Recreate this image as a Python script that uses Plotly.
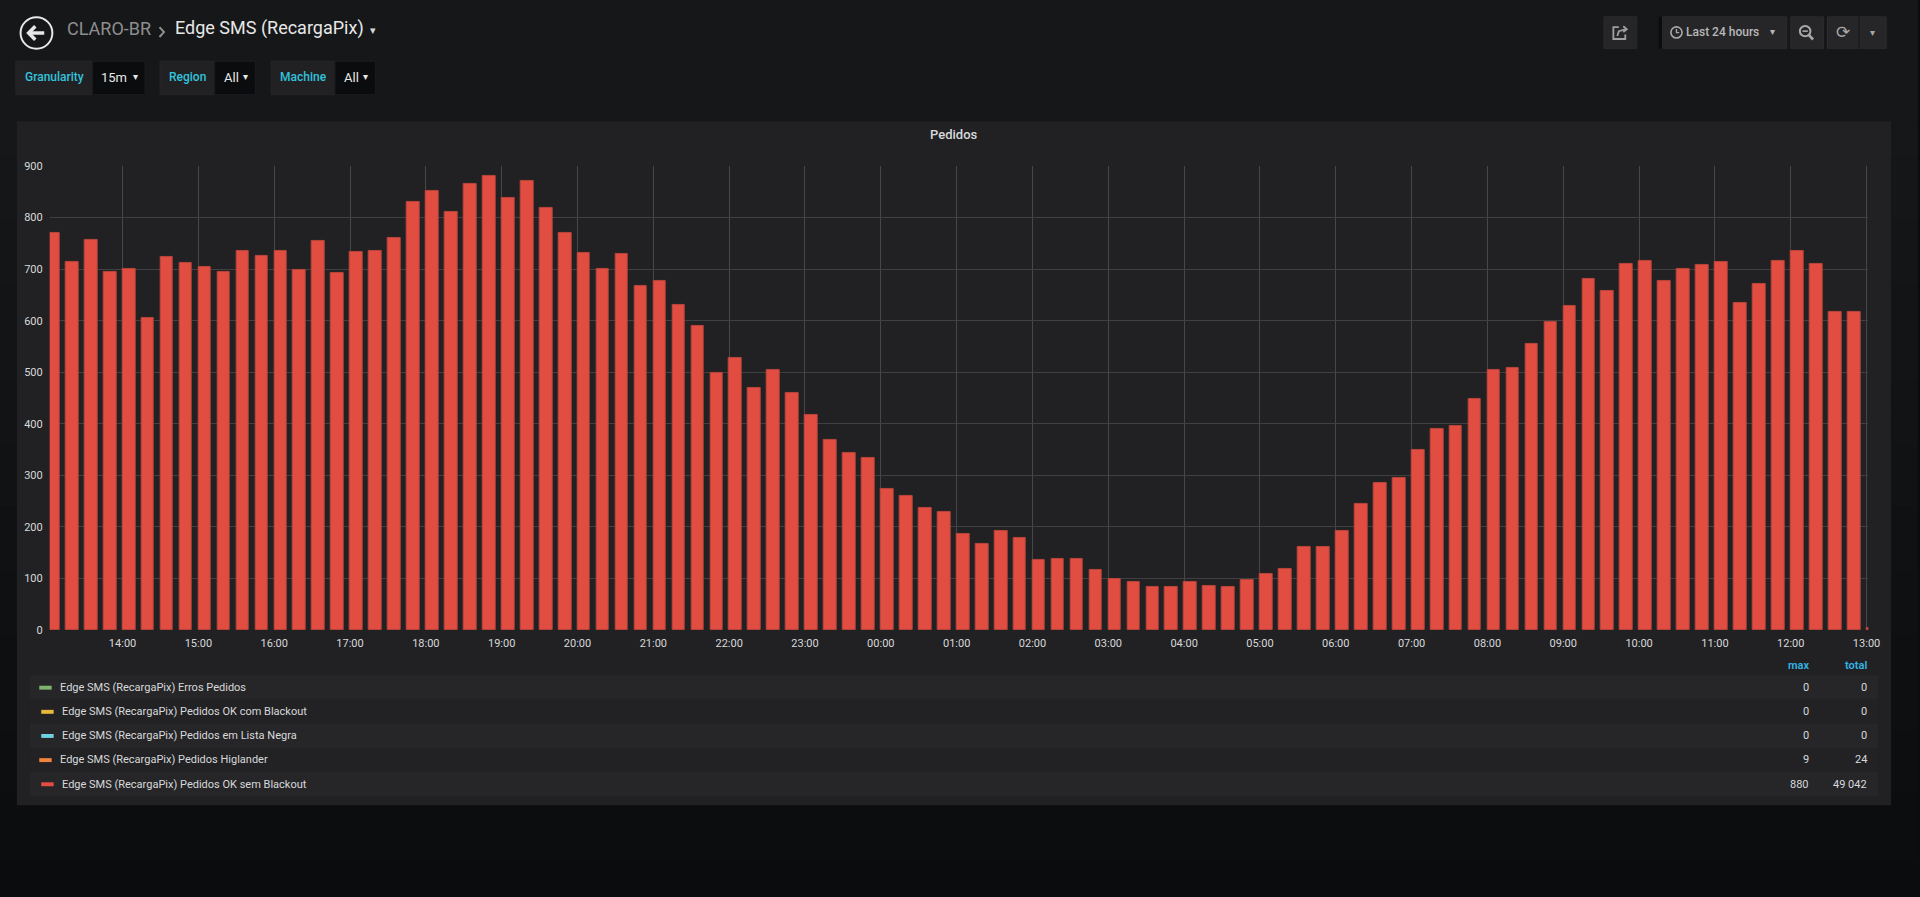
import pandas as pd
import plotly.graph_objects as go

# ---------------- data ----------------
start_time = "2021-06-01 13:00"
pedidos_ok_sem_blackout = [
    771, 714, 756, 695, 701, 605, 724, 712, 704, 694, 735, 726, 736, 699, 754, 692, 733, 736, 760, 831, 851, 810, 865, 880,
    837, 871, 818, 770, 732, 700, 729, 668, 677, 630, 589, 498, 528, 470, 505, 459, 417, 369, 343, 333, 273, 260, 237, 230,
    186, 168, 193, 179, 136, 138, 138, 116, 100, 94, 84, 83, 94, 85, 84, 97, 109, 118, 162, 161, 192, 245, 286, 296,
    350, 391, 396, 448, 505, 508, 555, 598, 629, 681, 658, 710, 716, 677, 700, 709, 714, 635, 671, 716, 735, 710, 617, 617,
    5,
]
timestamps = pd.date_range(start_time, periods=len(pedidos_ok_sem_blackout), freq="15min")
hour_ticks = pd.date_range("2021-06-01 14:00", "2021-06-02 13:00", freq="1h")
y_ticks = [0, 100, 200, 300, 400, 500, 600, 700, 800, 900]

legend_names = [
    "Edge SMS (RecargaPix) Erros Pedidos",
    "Edge SMS (RecargaPix) Pedidos OK com Blackout",
    "Edge SMS (RecargaPix) Pedidos em Lista Negra",
    "Edge SMS (RecargaPix) Pedidos Higlander",
    "Edge SMS (RecargaPix) Pedidos OK sem Blackout",
]
legend_colors = ["#7eb26d", "#eab839", "#6ed0e0", "#ef843c", "#e24d42"]
legend_max = ["0", "0", "0", "9", "880"]
legend_total = ["0", "0", "0", "24", "49 042"]

# ---------------- helpers ----------------
W, H = 1920, 897
FONT = "Roboto"
PAGE = "#161719"
PANEL = "#212124"
TXT = "#d8d9da"


def px(x):
    return x / W


def py(y):
    return 1 - y / H


shapes = []
annotations = []


def rect(x0, y0, x1, y1, fill, line=None, lw=0, layer="below"):
    shapes.append(dict(type="rect", xref="paper", yref="paper",
                       x0=px(x0), x1=px(x1), y0=py(y1), y1=py(y0),
                       fillcolor=fill, line=dict(color=line or fill, width=lw), layer=layer))


def path(d_pts, color, width=1.5, fill=None, closed=False):
    segs = []
    for i, (x, y) in enumerate(d_pts):
        segs.append(("M" if i == 0 else "L") + f"{px(x):.6f},{py(y):.6f}")
    d = " ".join(segs) + (" Z" if closed else "")
    shapes.append(dict(type="path", xref="paper", yref="paper", path=d,
                       line=dict(color=color, width=width),
                       fillcolor=fill if fill else "rgba(0,0,0,0)", layer="above"))


def circle(cx, cy, r, color, width=1.5, fill=None):
    shapes.append(dict(type="circle", xref="paper", yref="paper",
                       x0=px(cx - r), x1=px(cx + r), y0=py(cy + r), y1=py(cy - r),
                       line=dict(color=color, width=width),
                       fillcolor=fill if fill else "rgba(0,0,0,0)", layer="above"))


def text(x, y, s, size=12, color=TXT, anchor="left", weight=None, family=FONT):
    f = dict(family=family, size=size, color=color)
    if weight:
        f["weight"] = weight
    annotations.append(dict(xref="paper", yref="paper", x=px(x), y=py(y), text=s,
                            showarrow=False, xanchor=anchor, yanchor="middle",
                            font=f, borderpad=0))


# ---------------- page background (vertical gradient) ----------------
g_top, g_bot = (22, 23, 25), (11, 12, 14)
g_start = 120
n_bands = 24
band_h = (H - g_start) / n_bands
rect(-10, -10, W + 10, g_start + 0.5, PAGE)
for i in range(n_bands):
    f = (i + 0.5) / n_bands
    c = tuple(round(a + (b - a) * f) for a, b in zip(g_top, g_bot))
    y1 = g_start + (i + 1) * band_h + (10 if i == n_bands - 1 else 0.5)
    rect(-10, g_start + i * band_h, W + 10, y1, "rgb(%d,%d,%d)" % c)

# ---------------- header ----------------
circle(36.7, 27.4, 16, "#e8e8e8", width=2)
path([(28.5, 27.4), (44.5, 27.4)], "#e8e8e8", width=3.5)
path([(35.5, 20.5), (28.8, 27.4), (35.5, 34.3)], "#e8e8e8", width=3.5)
text(66, 22.5, "CLARO-BR", size=18, color="#8e8e8e")
path([(160.5, 21.5), (165, 26.5), (160.5, 31.5)], "#8e8e8e", width=2)
text(175, 22.5, "Edge SMS (RecargaPix)", size=18, color="#e8e8e8")
text(375, 25, "▾", size=11, color="#d8d9da", anchor="center", family="DejaVu Sans")

# variable selectors
var_boxes = [
    (16, 93, 146, "Granularity", "15m"),
    (161, 216, 257, "Region", "All"),
    (273, 337, 378, "Machine", "All"),
]
for x0, xm, x1, lab, val in var_boxes:
    rect(x0, 56, xm, 90, "#212124", line="#262628", lw=1)
    rect(xm, 56, x1, 90, "#0b0c0e", line="#1c1d20", lw=1)
    text((x0 + xm) / 2, 72.5, lab, size=12, color="#33c3dc", anchor="center", weight=500)
    text(xm + 8, 73, val, size=13, color="#e8e8e8")
    text(x1 - 10, 72, "▾", size=10, color="#e8e8e8", anchor="center", family="DejaVu Sans")

# top-right buttons
rect(1614, 11, 1647, 43, "#262628", line="#2b2b2e", lw=1)
path([(1629, 21.5), (1623.5, 21.5), (1623.5, 33.5), (1635.5, 33.5), (1635.5, 29)], "#a0a0a0", width=1.8)
path([(1627.5, 30.5), (1629, 25.5), (1636.5, 23.5)], "#a0a0a0", width=1.8)
path([(1633.5, 20.5), (1637, 23.5), (1633.5, 26.5)], "#a0a0a0", width=1.8)

rect(1669, 11, 1673, 43, "#0b0c0e")
rect(1673, 11, 1798, 43, "#262628", line="#2b2b2e", lw=1)
circle(1687, 26.8, 5.6, "#a8a8a8", width=1.6)
path([(1687, 23.3), (1687, 27), (1689.8, 27)], "#a8a8a8", width=1.4)
text(1696, 26.5, "Last 24 hours", size=12, color="#b8b8b8", weight=500)
text(1784, 25.5, "▾", size=10, color="#b8b8b8", anchor="center", family="DejaVu Sans")

rect(1802, 11, 1835, 43, "#262628", line="#2b2b2e", lw=1)
circle(1816.5, 25.5, 5.3, "#a8a8a8", width=2)
path([(1813.8, 25.5), (1819.2, 25.5)], "#a8a8a8", width=1.6)
path([(1820.3, 29.5), (1824.5, 34)], "#a8a8a8", width=2.6)

rect(1839, 11, 1898, 43, "#262628", line="#2b2b2e", lw=1)
rect(1870, 11, 1871.5, 43, "#1b1b1d")
text(1854.5, 26.5, "⟳", size=17, color="#a8a8a8", anchor="center", family="DejaVu Sans")
text(1884.5, 27, "▾", size=10, color="#a8a8a8", anchor="center", family="DejaVu Sans")

# ---------------- panel ----------------
rect(17, 117, 1903, 811, PANEL)
text(959.5, 130.5, "Pedidos", size=13, color=TXT, anchor="center", weight=500)

# legend table
row_tops = [679, 704, 728, 753, 777, 802]
for i, name in enumerate(legend_names):
    t, b = row_tops[i], row_tops[i + 1]
    rect(30, t, 1890, b, "#262629" if i % 2 == 0 else "#222225")
    yc = (t + b) / 2
    sx = 39.5 if i in (0, 3) else 41.5
    rect(sx, yc - 1.8, sx + 12.5, yc + 2.2, legend_colors[i], layer="above")
    text(sx + 19.5, yc, name, size=11, color=TXT)
    text(1821, yc, legend_max[i], size=11, color=TXT, anchor="right")
    text(1880, yc, legend_total[i], size=11, color=TXT, anchor="right")
text(1821, 669, "max", size=11, color="#33b5e5", anchor="right", weight=600)
text(1880, 669, "total", size=11, color="#33b5e5", anchor="right", weight=600)

# ---------------- chart ----------------
fig = go.Figure()
fig.add_trace(go.Bar(
    x=timestamps, y=pedidos_ok_sem_blackout,
    width=600000, offset=0,
    marker=dict(color="#e24d42", line=dict(color="#b9443b", width=1)),
    name=legend_names[4], showlegend=False,
))

x_lo, x_hi = 50, 1880
y_top, y_bot = 162.3, 633.3
fig.update_layout(
    width=W, height=H,
    margin=dict(l=0, r=0, t=0, b=0),
    paper_bgcolor="#0b0c0e", plot_bgcolor=PANEL,
    showlegend=False, bargap=0,
    font=dict(family=FONT, color=TXT, size=11),
    shapes=shapes, annotations=annotations,
    xaxis=dict(
        type="date", domain=[px(x_lo), px(x_hi)],
        range=["2021-06-01 13:02:20", "2021-06-02 13:01:20"],
        tickvals=list(hour_ticks), tickformat="%H:%M",
        showgrid=True, gridcolor="#47474a", gridwidth=1,
        zeroline=False, showline=False, ticks="",
        tickfont=dict(family=FONT, size=11, color=TXT),
        ticklabelstandoff=5, fixedrange=True,
    ),
    yaxis=dict(
        domain=[py(y_bot), py(y_top)], range=[0, 900],
        tickvals=y_ticks,
        showgrid=True, gridcolor="#404043", gridwidth=1,
        zeroline=False, showline=False, ticks="",
        tickfont=dict(family=FONT, size=11, color=TXT),
        ticklabelstandoff=6, fixedrange=True,
    ),
)

fig.write_html(
    "out.html",
    config={"displayModeBar": False},
    post_script="document.body.style.margin='0';document.body.style.overflow='hidden';",
)
